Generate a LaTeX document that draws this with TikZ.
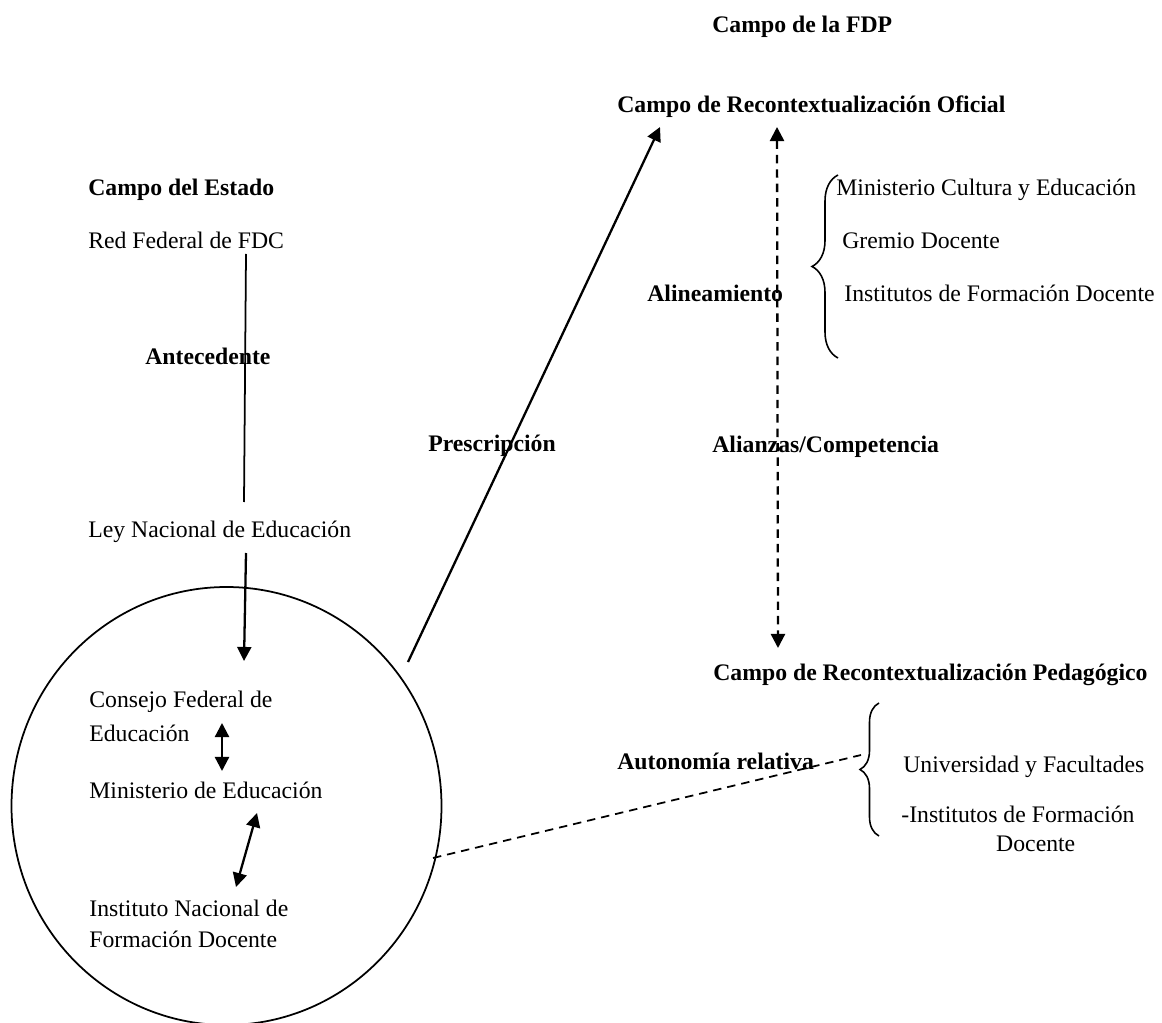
\documentclass[tikz,border=0pt]{standalone}
\usepackage{fontspec}
\setmainfont{Liberation Serif}
\usetikzlibrary{positioning}
\usetikzlibrary{arrows.meta}
\usetikzlibrary{decorations.pathreplacing}
\tikzset{
  ntxt/.style={inner sep=0pt,anchor=base west,font=\fontsize{13.5}{18.8}\selectfont},
  nbold/.style={ntxt,font=\fontsize{13.5}{18.8}\selectfont\bfseries},
  arr/.style={line width=1.3pt,-{Triangle[length=8pt,width=8pt]}},
  darr/.style={line width=1.3pt,{Triangle[length=8pt,width=8pt]}-{Triangle[length=8pt,width=8pt]}},
  dashl/.style={dash pattern=on 4.8pt off 3.4pt},
  brc/.style={line width=0.9pt,decorate,decoration={brace,amplitude=#1}},
}
\begin{document}
\begin{tikzpicture}[x=0.02cm,y=-0.02cm]
    \useasboundingbox (0,0) rectangle (1162,1023);
    % field titles
    \node[nbold] at (712,33)  (nFDP)    {Campo de la FDP};
    \node[nbold] at (617,113) (nOfic)   {Campo de Recontextualizaci\'on Oficial};
    \node[nbold] at (713,680) (nPeda)   {Campo de Recontextualizaci\'on Pedag\'ogico};
    \node[nbold] at (88,196)  (nEstado) {Campo del Estado};
    % state side
    \node[ntxt] at (88,249)  (nRed) {Red Federal de FDC};
    \node[nbold] at (145,365) (nAnte) {Antecedente};
    \node[ntxt] at (88,537)  (nLey) {Ley Nacional de Educaci\'on};
    \coordinate (cRed) at (246,254);
    \coordinate (cLey) at (244,502);
    \draw[line width=1pt] (cRed) -- (cLey);
    \coordinate (aLey1) at (246,553);
    \coordinate (aLey2) at (244,661);
    \draw[arr] (aLey1) -- (aLey2);
    % circle with the state bodies
    \draw[line width=1pt] (226.5,806) ellipse [x radius=215,y radius=219];
    \node[ntxt,align=left] at (89,741) (nConsejo) {Consejo Federal de\\Educaci\'on};
    \node[ntxt] at (89,798) (nMinis) {Ministerio de Educaci\'on};
    \node[ntxt,align=left,font=\fontsize{13.5}{17.6}\selectfont] at (89,947) (nInst)
        {Instituto Nacional de\\Formaci\'on Docente};
    \coordinate (aCM1) at (222,723);
    \coordinate (aCM2) at (222,771);
    \draw[darr] (aCM1) -- (aCM2);
    \coordinate (aMI1) at (257,813);
    \coordinate (aMI2) at (236,887);
    \draw[darr] (aMI1) -- (aMI2);
    % prescription arrow
    \node[nbold] at (428,451) (nPres) {Prescripci\'on};
    \coordinate (aPre1) at (408,662);
    \coordinate (aPre2) at (660,127);
    \draw[arr] (aPre1) -- (aPre2);
    % official field
    \node[nbold] at (647,302) (nAlin)   {Alineamiento};
    \node[nbold] at (712,452) (nAlianz) {Alianzas/Competencia};
    \coordinate (aAl1) at (777,127);
    \coordinate (aAl2) at (778,648);
    \draw[darr,dashl] (aAl1) -- (aAl2);
    \node[ntxt] at (836,196) (nMC)     {Ministerio Cultura y Educaci\'on};
    \node[ntxt] at (842,249) (nGremio) {Gremio Docente};
    \node[ntxt] at (844,302) (nIFD)    {Institutos de Formaci\'on Docente};
    \coordinate (bOf1) at (838,358);
    \coordinate (bOf2) at (838,175);
    \draw[brc=0.52cm] (bOf1) -- (bOf2);
    % pedagogic field
    \node[nbold] at (617,769) (nAuto) {Autonom\'ia relativa};
    \node[ntxt] at (903,772) (nUniv) {Universidad y Facultades};
    \node[ntxt,align=left,font=\fontsize{13.5}{16.5}\selectfont] at (901,851) (nIFD2)
        {-Institutos de Formaci\'on\\\hspace*{4em}Docente};
    \coordinate (bPe1) at (879,836);
    \coordinate (bPe2) at (879,703);
    \draw[brc=0.38cm] (bPe1) -- (bPe2);
    \coordinate (cAut1) at (433,858);
    \coordinate (cAut2) at (861,755);
    \draw[line width=1pt,dashl] (cAut1) -- (cAut2);
\end{tikzpicture}
\end{document}
